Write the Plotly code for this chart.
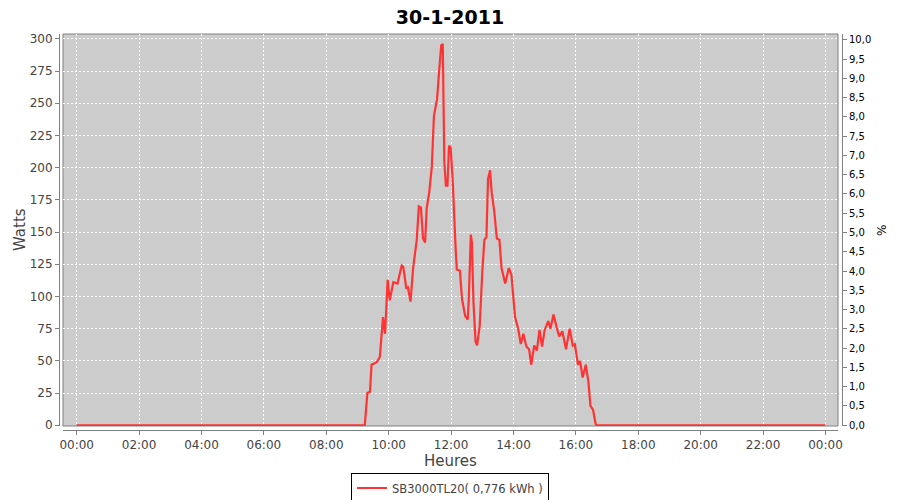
import plotly.graph_objects as go
import pandas as pd

# ---- data ----
times = ["00:00", "09:10", "09:14", "09:19", "09:24", "09:27", "09:32", "09:37", "09:43", "09:46",
         "09:49", "09:53", "09:55", "09:58", "10:02", "10:09", "10:17", "10:25", "10:28", "10:34",
         "10:37", "10:42", "10:47", "10:54", "10:58", "11:02", "11:06", "11:10", "11:13", "11:18",
         "11:23", "11:27", "11:31", "11:33", "11:37", "11:41", "11:44", "11:47", "11:50", "11:53",
         "11:56", "11:59", "12:03", "12:06", "12:09", "12:11", "12:17", "12:21", "12:27", "12:32",
         "12:34", "12:38", "12:40", "12:43", "12:47", "12:50", "12:55", "13:00", "13:04", "13:08",
         "13:11", "13:15", "13:18", "13:23", "13:28", "13:33", "13:37", "13:44", "13:51", "13:56",
         "14:03", "14:09", "14:14", "14:19", "14:25", "14:30", "14:34", "14:40", "14:45", "14:50",
         "14:55", "15:00", "15:07", "15:11", "15:17", "15:23", "15:28", "15:34", "15:41", "15:48",
         "15:54", "15:58", "16:04", "16:08", "16:13", "16:19", "16:24", "16:28", "16:33", "16:38",
         "16:40", "23:59"]
watts = [0, 0, 0, 25, 26, 47, 48, 49, 53, 72,
         84, 71, 89, 113, 97, 111, 110, 124, 123, 106,
         107, 96, 122, 144, 170, 169, 145, 142, 168, 181,
         201, 240, 249, 253, 275, 295, 296, 204, 186, 186,
         217, 216, 191, 158, 135, 121, 120, 98, 85, 82,
         98, 148, 142, 96, 65, 62, 77, 119, 144, 146,
         191, 198, 181, 166, 145, 144, 122, 110, 122, 117,
         84, 75, 63, 71, 61, 59, 47, 62, 58, 74,
         61, 74, 81, 75, 86, 76, 69, 73, 59, 75,
         62, 63, 47, 50, 37, 47, 34, 15, 12, 1,
         0, 0]
day = "2011-01-30"
series_name = "SB3000TL20( 0,776 kWh )"
chart_title = "30-1-2011"

x = pd.to_datetime([day + " " + t for t in times])

FONT = "DejaVu Sans"
GRAY = "#808080"
TXT = "#444444"

# page body has an 8px margin: all figure positions are shifted up/left by 8px
L, T, B, R = 51, 26, 78, 66
pw = 900 - L - R
ph = 500 - T - B
AXIS_Y = 500 - B  # figure px of x-axis line

fig = go.Figure()
fig.add_trace(go.Scatter(x=x, y=watts, mode="lines", name=series_name,
                         line=dict(color="rgb(255,51,51)", width=2.2)))
fig.add_trace(go.Scatter(x=[], y=[], yaxis="y2", showlegend=False, hoverinfo="skip"))

fig.update_layout(
    width=900, height=500,
    margin=dict(l=L, r=R, t=T, b=B, pad=0, autoexpand=False),
    paper_bgcolor="white",
    plot_bgcolor="#CCCCCC",
    separators=", ",
    showlegend=True,
    font=dict(family=FONT, color=TXT, size=12),
    title=dict(text="<b>" + chart_title + "</b>", x=(450 - 8) / 900, xanchor="center",
               y=1 - 3 / 500, yanchor="top", pad=dict(t=0, b=0),
               font=dict(family=FONT, size=19, color="black")),
    xaxis=dict(type="date", domain=[4 / pw, 1 - 4 / pw],
               range=["2011-01-29 23:33:39", "2011-01-31 00:24:04"],
               tick0=day + " 00:00", dtick=7200000, tickformat="%H:%M",
               anchor="free", position=0,
               showline=True, linecolor=GRAY, linewidth=1,
               ticks="outside", ticklen=4, tickcolor=GRAY,
               showgrid=True, gridcolor="white", griddash="2px,2px", gridwidth=1,
               zeroline=False, tickfont=dict(size=12, color=TXT)),
    yaxis=dict(domain=[4 / ph, 1], range=[-0.6, 303.8], dtick=25,
               anchor="free", position=0,
               showline=True, linecolor=GRAY, linewidth=1,
               ticks="outside", ticklen=4, tickcolor=GRAY,
               showgrid=True, gridcolor="white", griddash="2px,2px", gridwidth=1,
               zeroline=False, tickfont=dict(size=12, color=TXT)),
    yaxis2=dict(overlaying="y", side="right", anchor="free", position=1,
                range=[-0.02, 10.15], dtick=0.5, tickformat=".1f",
                showline=True, linecolor=GRAY, linewidth=1,
                ticks="outside", ticklen=4, tickcolor=GRAY,
                showgrid=False, zeroline=False,
                tickfont=dict(size=10, color="black")),
    legend=dict(orientation="h", x=(450 - 8 - L) / pw, xanchor="center",
                y=(AXIS_Y - 480) / ph, yanchor="middle",
                bordercolor="black", borderwidth=1, bgcolor="white",
                font=dict(size=11.5, color=TXT), itemwidth=30),
    shapes=[dict(type="rect", xref="x domain", yref="y domain", x0=0, x1=1, y0=0, y1=1,
                 line=dict(color=GRAY, width=1), layer="below")],
    annotations=[
        dict(text="Watts", xref="paper", yref="paper", x=(12 - L) / pw, y=(AXIS_Y - 222) / ph,
             textangle=-90, showarrow=False, xanchor="center", yanchor="middle",
             font=dict(size=15, color=TXT)),
        dict(text="Heures", xref="paper", yref="paper", x=(442 - L) / pw, y=(AXIS_Y - 453) / ph,
             showarrow=False, xanchor="center", yanchor="middle",
             font=dict(size=15, color=TXT)),
        dict(text="%", xref="paper", yref="paper", x=(874 - L) / pw, y=(AXIS_Y - 222) / ph,
             textangle=-90, showarrow=False, xanchor="center", yanchor="middle",
             font=dict(size=12, color="black")),
    ],
)

fig.write_html("out.html")
